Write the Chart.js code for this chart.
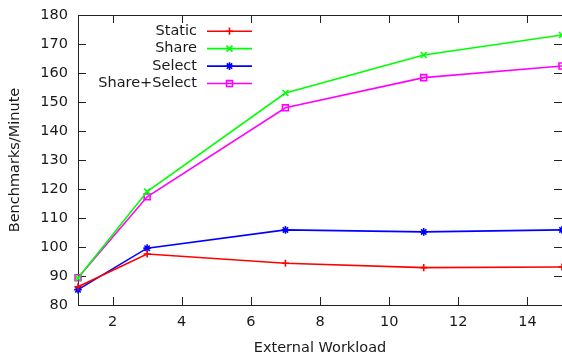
<!DOCTYPE html>
<html><head><meta charset="utf-8">
<script src="https://cdn.jsdelivr.net/npm/chart.js@4/dist/chart.umd.min.js"></script>
<style>html,body{margin:0;padding:0;background:#fff;overflow:hidden}#wrap{width:562px;height:358px;position:relative}</style>
</head><body><div id="wrap"><canvas id="c" width="562" height="358"></canvas></div>
<script>
const workload = [1, 3, 7, 11, 15];
const staticVals = [86.3, 97.6, 94.4, 92.9, 93.1];
const shareVals = [89.3, 119.1, 153.1, 166.2, 173.1];
const selectVals = [85.3, 99.6, 105.9, 105.2, 105.9];
const shareSelectVals = [89.4, 117.3, 148.0, 158.4, 162.4];
const seriesNames = ['Static', 'Share', 'Select', 'Share+Select'];
const xTicks = [2, 4, 6, 8, 10, 12, 14];
const yTicks = [80, 90, 100, 110, 120, 130, 140, 150, 160, 170, 180];

const FONT = 'DejaVu Sans';
const FS = 14.5;
const TXT = '#1a1a1a';

function pts(vals){ return workload.map((x,i)=>({x:x, y:vals[i]})); }
function ds(label, vals, color, style, radius){
  return {label, data: pts(vals), borderColor: color, backgroundColor: 'rgba(0,0,0,0)',
    borderWidth: 1.6, pointStyle: style, pointRadius: radius, pointBorderWidth: 1.6,
    pointBorderColor: color, pointBackgroundColor: 'rgba(0,0,0,0)', tension: 0, clip: false};
}

const frame = {
  id: 'frame',
  beforeDatasetsDraw(chart){
    const {ctx, chartArea: a, scales} = chart;
    ctx.save();
    ctx.strokeStyle = '#222';
    ctx.lineWidth = 1;
    ctx.beginPath();
    ctx.rect(Math.round(a.left)+0.5, Math.round(a.top)+0.5, Math.round(a.right-a.left)+1, Math.round(a.bottom-a.top));
    ctx.stroke();
    const L = 8;
    ctx.beginPath();
    xTicks.forEach(v=>{
      const x = Math.round(scales.x.getPixelForValue(v))+0.5;
      ctx.moveTo(x, a.bottom); ctx.lineTo(x, a.bottom-L);
      ctx.moveTo(x, a.top); ctx.lineTo(x, a.top+L);
    });
    yTicks.forEach(v=>{
      const y = Math.round(scales.y.getPixelForValue(v))+0.5;
      ctx.moveTo(a.left, y); ctx.lineTo(a.left+L, y);
      ctx.moveTo(a.right, y); ctx.lineTo(a.right-L, y);
    });
    ctx.stroke();
    ctx.restore();
  },
  afterDatasetsDraw(chart){
    const {ctx, chartArea: a} = chart;
    ctx.save();
    ctx.font = FS + 'px "' + FONT + '"';
    ctx.textAlign = 'right';
    ctx.textBaseline = 'middle';
    chart.data.datasets.forEach((d,i)=>{
      const y = a.top + 16.2 + i*17.45;
      const tx = a.left + 119;
      ctx.fillStyle = TXT;
      ctx.fillText(d.label, tx, y);
      ctx.strokeStyle = d.borderColor;
      ctx.lineWidth = d.borderWidth;
      ctx.beginPath();
      ctx.moveTo(a.left+129, y); ctx.lineTo(a.left+174, y);
      ctx.stroke();
      ctx.fillStyle = 'rgba(0,0,0,0)';
      Chart.helpers.drawPoint(ctx, {pointStyle: d.pointStyle, radius: d.pointRadius, borderWidth: d.pointBorderWidth, rotation: 0}, a.left+151.5, y);
    });
    ctx.restore();
  }
};

new Chart(document.getElementById('c'), {
  type: 'line',
  data: { datasets: [
    ds(seriesNames[0], staticVals, '#ff0000', 'cross', 3.6),
    ds(seriesNames[1], shareVals, '#00ff00', 'crossRot', 4.2),
    ds(seriesNames[2], selectVals, '#0000ff', 'star', 3.8),
    ds(seriesNames[3], shareSelectVals, '#ff00ff', 'rect', 4.2)
  ]},
  options: {
    responsive: false,
    animation: false,
    devicePixelRatio: 1,
    layout: { autoPadding: false, padding: { top: 15, right: 0, left: 0, bottom: 0 } },
    plugins: { legend: { display: false }, tooltip: { enabled: false } },
    scales: {
      x: {
        type: 'linear', min: 1, max: 15, position: 'bottom',
        grid: { display: false }, border: { display: false },
        afterBuildTicks: s => { s.ticks = xTicks.map(v=>({value:v})); },
        afterFit: s => { s.height = 53; s.paddingLeft = 0; s.paddingRight = 0; },
        ticks: { font: { family: FONT, size: FS }, color: TXT, padding: 1, maxRotation: 0, autoSkip: false },
        title: { display: true, text: 'External Workload', font: { family: FONT, size: FS }, color: TXT, padding: { top: 0, bottom: 1.3 } }
      },
      y: {
        type: 'linear', min: 80, max: 180,
        grid: { display: false }, border: { display: false },
        afterBuildTicks: s => { s.ticks = yTicks.map(v=>({value:v})); },
        afterFit: s => { s.width = 78; s.paddingTop = 0; s.paddingBottom = 0; },
        ticks: { font: { family: FONT, size: FS }, color: TXT, padding: 2, autoSkip: false },
        title: { display: true, text: 'Benchmarks/Minute', font: { family: FONT, size: FS }, color: TXT, padding: { top: 6.3, bottom: 0 } }
      }
    }
  },
  plugins: [frame]
});
</script></body></html>
